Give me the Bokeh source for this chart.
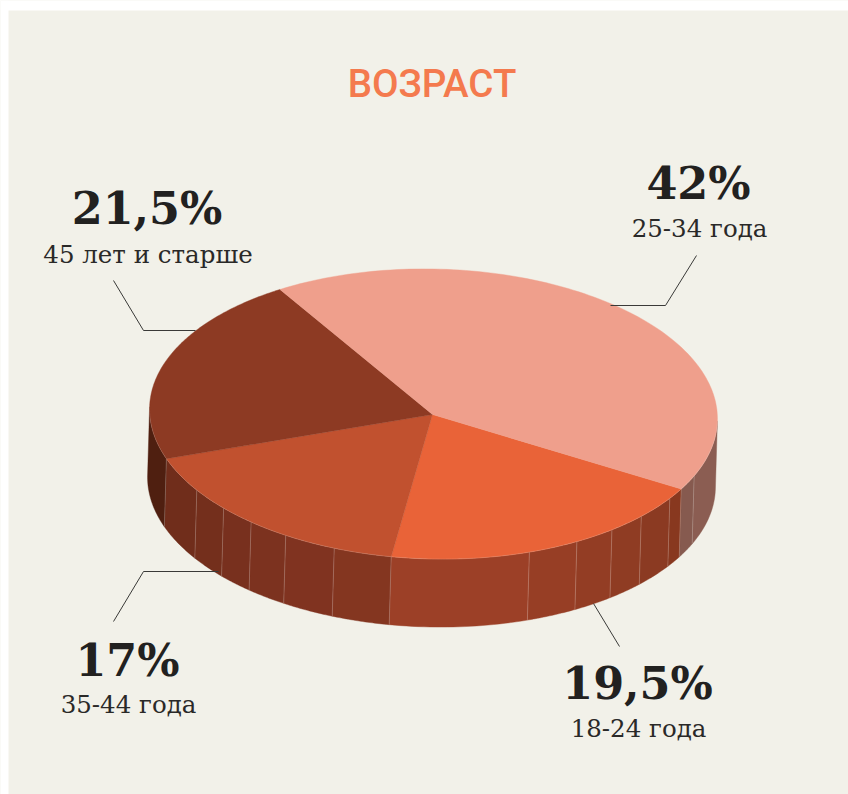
import math
from bokeh.plotting import figure
from bokeh.core.properties import value
from bokeh.embed import file_html
from bokeh.resources import INLINE
from bokeh.models import Range1d

title = "ВОЗРАСТ"
labels = ["25-34 года", "18-24 года", "35-44 года", "45 лет и старше"]
shares = [42, 19.5, 17, 21.5]
share_text = ["42%", "19,5%", "17%", "21,5%"]
top_colors = ["#ef9f8c", "#e96338", "#c1512f", "#8d3a23"]

# side wall facets: end angle (deg, clockwise from the right on the ellipse) and colour
wall_angles = [0.2, 22.7, 28.6, 33, 42.3, 50.4, 59, 69.6, 97.9, 109.8, 120.7, 129.3, 137, 145.8, 159.5, 180.2]
wall_colors = ["#8b5d52", "#865a4f", "#88381f", "#8b3a22", "#8f3c23", "#933d24", "#973e25", "#9c4027",
               "#843620", "#803320", "#7c321f", "#78301e", "#742f1c", "#702d1b", "#4f1f10"]
seams = [22.7, 28.6, 33, 42.3, 50.4, 59, 69.6, 97.9, 109.8, 120.7, 129.3, 137, 145.8, 159.5]

# geometry of the projected disc (page pixels)
CX, CY, VX, VY = 433, 413.5, 432, 414
A, B, TILT = 284, 145, math.radians(1.3)
DX, DY = -2, 68
START = 28.6
NUDGE = [0.0, -0.9, -0.5, -0.8]  # small shift of each slice boundary

def ell(t):
    r = math.radians(t)
    x = A * math.cos(r) * math.cos(TILT) - B * math.sin(r) * math.sin(TILT)
    y = A * math.cos(r) * math.sin(TILT) + B * math.sin(r) * math.cos(TILT)
    return CX + x, CY + y

def arc(t0, t1, n=60):
    return [ell(t0 + (t1 - t0) * i / n) for i in range(n + 1)]

W, H = 848, 794
p = figure(width=W, height=H, output_backend="svg", toolbar_location=None,
           x_range=Range1d(0, W), y_range=Range1d(H, 0),
           min_border=0, outline_line_color=None, background_fill_color="#f2f1e9",
           border_fill_color="#f2f1e9")
p.xaxis.visible = False
p.yaxis.visible = False
p.grid.visible = False

# white strips above and left of the panel
p.quad(left=[0], right=[W], top=[0], bottom=[10], fill_color="#ffffff", line_color=None)
p.quad(left=[0], right=[8], top=[0], bottom=[H], fill_color="#ffffff", line_color=None)

# walls
for i, c in enumerate(wall_colors):
    a = arc(wall_angles[i], wall_angles[i + 1], 24)
    xs = [q[0] for q in a] + [q[0] + DX for q in reversed(a)]
    ys = [q[1] for q in a] + [q[1] + DY for q in reversed(a)]
    p.patch(xs, ys, fill_color=c, line_color=c, line_width=0.4)

for t in seams:
    x, y = ell(t)
    p.line([x, x + DX], [y, y + DY], line_color="#ffffff", line_alpha=0.25, line_width=0.8)

# top slices, sized from the shares, running clockwise from the 18-24 slice
order = [1, 2, 3, 0]
bounds = [START]
for k in order:
    bounds.append(bounds[-1] + shares[k] * 3.6)
bounds = [b + NUDGE[i % 4] for i, b in enumerate(bounds)]
for j, k in enumerate(order):
    a = arc(bounds[j], bounds[j + 1], 120)
    xs = [VX] + [q[0] for q in a]
    ys = [VY] + [q[1] for q in a]
    p.patch(xs, ys, fill_color=top_colors[k], line_color=top_colors[k], line_width=0.4)

# faint highlight along the front rim
a = arc(0.2, 180.2, 160)
p.line([q[0] for q in a], [q[1] for q in a], line_color="#ffffff", line_alpha=0.18, line_width=0.8)

# leader lines
leaders = [([696, 665, 610], [255, 305, 305]),
           ([593, 619], [603, 646]),
           ([113, 143, 218], [621, 571, 571]),
           ([113, 143, 195], [280, 330, 330])]
for lx, ly in leaders:
    p.line(lx, ly, line_color="#3a3a38", line_width=1)

# texts
p.text([431.5], [83], text=[title], text_font=value("Roboto Medium"), text_font_size="38.5px",
       text_color="#f47a4e", text_align="center", text_baseline="alphabetic")
big_x = [698, 637, 127, 146.5]
big_y = [182, 682, 659, 207]
small_x = [699, 638, 128, 147.5]
small_y = [228, 728, 704, 254]
for i in range(4):
    p.text([big_x[i]], [big_y[i]], text=[share_text[i]], text_font=value("DejaVu Serif"), text_font_style="bold",
           text_font_size="44.5px", text_color="#222120", text_align="center", text_baseline="alphabetic")
    p.text([small_x[i]], [small_y[i]], text=[labels[i]], text_font=value("DejaVu Serif"),
           text_font_size="24.5px", text_color="#2a2928", text_align="center", text_baseline="alphabetic")

open("out.html", "w").write(file_html(p, INLINE))
